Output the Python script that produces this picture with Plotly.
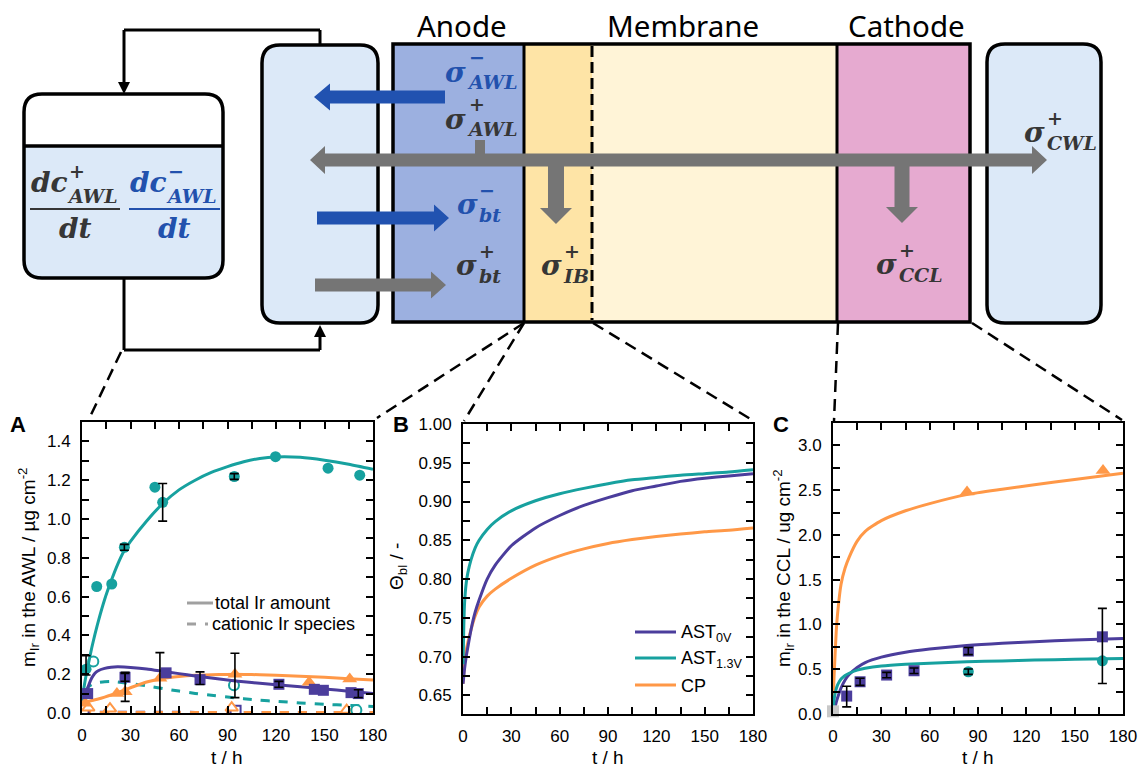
import plotly.graph_objects as go

W, H = 1140, 772

# ---------------- data ----------------
# Panel A : Ir in the anode water layer (AWL)
A_curve_t = [0, 1, 2, 3, 4, 6, 8, 10, 14, 18, 22, 26, 30, 40, 50, 60, 70, 80, 90, 100, 110, 120, 135, 150, 165, 180]
A_total_13V = [0.06, 0.12, 0.17, 0.215, 0.255, 0.335, 0.405, 0.47, 0.585, 0.68, 0.765, 0.835, 0.885, 0.99, 1.08, 1.15, 1.2, 1.24, 1.27, 1.295, 1.312, 1.32, 1.318, 1.303, 1.282, 1.256]
A_total_0V = [0.05, 0.07, 0.09, 0.115, 0.14, 0.18, 0.205, 0.218, 0.23, 0.236, 0.238, 0.237, 0.235, 0.227, 0.215, 0.203, 0.191, 0.18, 0.17, 0.161, 0.153, 0.146, 0.135, 0.124, 0.112, 0.1]
A_total_CP = [0.055, 0.056, 0.057, 0.058, 0.06, 0.064, 0.068, 0.072, 0.082, 0.093, 0.105, 0.118, 0.13, 0.16, 0.178, 0.188, 0.194, 0.197, 0.199, 0.199, 0.197, 0.194, 0.189, 0.184, 0.177, 0.17]
A_cat_13V = [0.02, 0.065, 0.1, 0.12, 0.135, 0.147, 0.153, 0.157, 0.161, 0.162, 0.16, 0.156, 0.152, 0.14, 0.126, 0.113, 0.101, 0.091, 0.082, 0.074, 0.066, 0.06, 0.052, 0.045, 0.039, 0.034]
A_cat_0V = [0.012, 0.01, 0.008, 0.007, 0.006, 0.005, 0.005, 0.004, 0.004, 0.004, 0.004, 0.004, 0.004, 0.004, 0.004, 0.004, 0.003, 0.003, 0.003, 0.003, 0.003, 0.003, 0.003, 0.003, 0.003, 0.003]
A_cat_CP = [0.004, 0.004, 0.004, 0.003, 0.003, 0.003, 0.003, 0.003, 0.003, 0.003, 0.002, 0.002, 0.002, 0.002, 0.002, 0.002, 0.002, 0.002, 0.002, 0.002, 0.002, 0.002, 0.002, 0.002, 0.002, 0.002]

A_13V_t = [2.5, 9.1, 18.4, 26.2, 45.1, 49.9, 94.2, 119.7, 152.2, 171.8]
A_13V_m = [0.226, 0.652, 0.665, 0.854, 1.164, 1.086, 1.219, 1.321, 1.262, 1.226]
A_0V_t = [3.5, 26.6, 52, 73, 121.8, 143.7, 149.3, 166.4, 170.9]
A_0V_m = [0.1, 0.184, 0.207, 0.172, 0.148, 0.122, 0.117, 0.105, 0.1]
A_CP_t = [2, 21.6, 26.7, 48.2, 94.6, 140.5, 165.6]
A_CP_m = [0.05, 0.101, 0.11, 0.179, 0.2, 0.158, 0.175]
A_13V_cat_t = [7, 94, 169.7]
A_13V_cat_m = [0.265, 0.143, 0.015]
A_0V_cat_t = [1, 95]
A_0V_cat_m = [0.015, 0.012]
A_CP_cat_t = [3.9, 17.3, 92.6, 163.7]
A_CP_cat_m = [0.027, 0.022, 0.027, 0.015]

A_err_t = [2.5, 26.2, 49.9, 94.2, 26.6, 73, 121.8, 170.9, 26.7, 48.2, 94.6]
A_err_m = [0.226, 0.854, 1.086, 1.219, 0.184, 0.172, 0.148, 0.1, 0.11, 0.179, 0.2]
A_err_plus = [0.07, 0.015, 0.097, 0.015, 0.02, 0.04, 0.015, 0.02, 0.1, 0.132, 0.108]
A_err_minus = [0.03, 0.015, 0.097, 0.015, 0.02, 0.025, 0.015, 0.02, 0.05, 0.185, 0.121]

# Panel B : blocked surface fraction
B_t = [0, 0.5, 1, 2, 3, 5, 7.5, 10, 15, 20, 30, 45, 60, 75, 90, 105, 120, 135, 150, 165, 180]
B_0V = [0.665, 0.675, 0.685, 0.7, 0.712, 0.735, 0.757, 0.773, 0.8, 0.818, 0.843, 0.866, 0.882, 0.895, 0.905, 0.914, 0.92, 0.926, 0.93, 0.933, 0.936]
B_13V = [0.69, 0.74, 0.77, 0.795, 0.808, 0.825, 0.84, 0.85, 0.864, 0.874, 0.888, 0.901, 0.91, 0.917, 0.923, 0.928, 0.931, 0.934, 0.936, 0.938, 0.941]
B_CP = [0.665, 0.68, 0.692, 0.708, 0.718, 0.735, 0.752, 0.764, 0.778, 0.787, 0.801, 0.818, 0.83, 0.839, 0.846, 0.851, 0.855, 0.858, 0.861, 0.863, 0.866]

# Panel C : Ir in the cathode catalyst layer (CCL)
C_t = [0, 0.5, 1, 2, 3, 5, 7.5, 10, 15, 20, 30, 45, 60, 83, 105, 125, 150, 180]
C_CP = [0, 0.35, 0.55, 0.92, 1.15, 1.45, 1.63, 1.75, 1.93, 2.04, 2.16, 2.27, 2.35, 2.45, 2.51, 2.56, 2.62, 2.69]
C_0V = [0, 0.03, 0.06, 0.13, 0.19, 0.29, 0.38, 0.44, 0.52, 0.575, 0.635, 0.69, 0.725, 0.765, 0.79, 0.807, 0.826, 0.844]
C_13V = [0, 0.13, 0.2, 0.28, 0.33, 0.39, 0.43, 0.455, 0.49, 0.51, 0.535, 0.555, 0.568, 0.583, 0.593, 0.602, 0.612, 0.621]

C_0V_t = [8.5, 16.8, 33.3, 50.3, 84, 167.2]
C_0V_m = [0.2, 0.36, 0.435, 0.483, 0.703, 0.862]
C_13V_t = [84, 167.2]
C_13V_m = [0.472, 0.594]
C_CP_t = [83.2, 167.6]
C_CP_m = [2.48, 2.72]
C_ref_t = [0]
C_ref_m = [0.03]

C_err_t = [8.5, 16.8, 33.3, 50.3, 84, 84, 167.2]
C_err_m = [0.2, 0.36, 0.435, 0.483, 0.703, 0.472, 0.76]
C_err_plus = [0.11, 0.04, 0.03, 0.03, 0.04, 0.03, 0.42]
C_err_minus = [0.12, 0.04, 0.03, 0.03, 0.04, 0.03, 0.42]

legend_names = ["AST<sub>0V</sub>", "AST<sub>1.3V</sub>", "CP"]

# ---------------- styles ----------------
TEAL = "#17a19f"
PURPLE = "#4b3d9c"
ORANGE = "#ff9847"
SANS = "Liberation Sans, Arial, sans-serif"
SERIF = "DejaVu Serif, serif"
DARK = "#363636"
BLUE_T = "#2251ad"
BLUE_A = "#2152b0"
GRAY_A = "#757575"

def X(px):
    return px / W

def Y(py):
    return 1 - py / H

def P(x, y):
    return f"{X(x):.5f},{Y(y):.5f}"

fig = go.Figure()

def line_tr(x, y, color, xa, ya, dash="solid", width=3):
    fig.add_trace(go.Scatter(x=x, y=y, mode="lines", line=dict(color=color, width=width, dash=dash, shape="spline", smoothing=0.6),
                             xaxis=xa, yaxis=ya, showlegend=False, hoverinfo="skip"))

def mark_tr(x, y, color, symbol, size, xa, ya, open_=False, clip=True):
    if open_:
        mk = dict(symbol=symbol, size=size, color="white", line=dict(color=color, width=2))
    else:
        mk = dict(symbol=symbol, size=size, color=color, line=dict(width=0))
    fig.add_trace(go.Scatter(x=x, y=y, mode="markers", marker=mk, xaxis=xa, yaxis=ya,
                             showlegend=False, hoverinfo="skip", cliponaxis=clip))

def err_tr(x, y, ep, em, xa, ya):
    fig.add_trace(go.Scatter(x=x, y=y, mode="markers", marker=dict(size=1, color="rgba(0,0,0,0)"),
                             error_y=dict(type="data", symmetric=False, array=ep, arrayminus=em,
                                          color="black", thickness=1.6, width=4.5),
                             xaxis=xa, yaxis=ya, showlegend=False, hoverinfo="skip", cliponaxis=False))

# Panel A
line_tr(A_curve_t, A_cat_0V, PURPLE, "x", "y", dash="dash")
line_tr(A_curve_t, A_cat_CP, ORANGE, "x", "y", dash="dash")
line_tr(A_curve_t, A_cat_13V, TEAL, "x", "y", dash="dash")
mark_tr(A_0V_cat_t, A_0V_cat_m, PURPLE, "square", 10, "x", "y", open_=True)
mark_tr(A_CP_cat_t, A_CP_cat_m, ORANGE, "triangle-up", 11, "x", "y", open_=True)
mark_tr(A_13V_cat_t, A_13V_cat_m, TEAL, "circle", 10, "x", "y", open_=True)
line_tr(A_curve_t, A_total_CP, ORANGE, "x", "y")
line_tr(A_curve_t, A_total_0V, PURPLE, "x", "y")
line_tr(A_curve_t, A_total_13V, TEAL, "x", "y")
mark_tr(A_CP_t, A_CP_m, ORANGE, "triangle-up", 13, "x", "y")
mark_tr(A_0V_t, A_0V_m, PURPLE, "square", 11, "x", "y")
mark_tr(A_13V_t, A_13V_m, TEAL, "circle", 11, "x", "y")
err_tr(A_err_t, A_err_m, A_err_plus, A_err_minus, "x", "y")

# Panel B
line_tr(B_t, B_CP, ORANGE, "x2", "y2")
line_tr(B_t, B_0V, PURPLE, "x2", "y2")
line_tr(B_t, B_13V, TEAL, "x2", "y2")

# Panel C
line_tr(C_t, C_CP, ORANGE, "x3", "y3")
line_tr(C_t, C_0V, PURPLE, "x3", "y3")
line_tr(C_t, C_13V, TEAL, "x3", "y3")
mark_tr(C_ref_t, C_ref_m, "#c8c8c8", "square", 12, "x3", "y3", clip=False)
mark_tr(C_CP_t, C_CP_m, ORANGE, "triangle-up", 13, "x3", "y3")
mark_tr(C_0V_t, C_0V_m, PURPLE, "square", 11, "x3", "y3")
mark_tr(C_13V_t, C_13V_m, TEAL, "circle", 11, "x3", "y3")
err_tr(C_err_t, C_err_m, C_err_plus, C_err_minus, "x3", "y3")

# ---------------- axes ----------------
TICKF = dict(family=SANS, size=17, color="black")

def xax(x0, x1, anchor):
    return dict(domain=[X(x0), X(x1)], anchor=anchor, range=[0, 180], tick0=0, dtick=30,
                ticks="inside", ticklen=7, tickwidth=1.5, tickcolor="black", automargin=False,
                showline=True, linewidth=2, linecolor="black", mirror="ticks",
                showgrid=False, zeroline=False, tickfont=TICKF, ticklabelstandoff=6,
                minor=dict(dtick=15, tick0=0, ticks="inside", ticklen=7, tickwidth=1.5, tickcolor="black"))

def yax(y_top, y_bot, anchor, rng, dtick, mdtick, tick0, fmt):
    return dict(domain=[Y(y_bot), Y(y_top)], anchor=anchor, range=rng, tick0=tick0, dtick=dtick,
                ticks="inside", ticklen=7, tickwidth=1.5, tickcolor="black", tickformat=fmt, automargin=False,
                showline=True, linewidth=2, linecolor="black", mirror="ticks",
                showgrid=False, zeroline=False, tickfont=TICKF, ticklabelstandoff=6,
                minor=dict(dtick=mdtick, tick0=tick0, ticks="inside", ticklen=7, tickwidth=1.5, tickcolor="black"))

fig.update_layout(
    width=W, height=H, margin=dict(l=0, r=0, t=0, b=0, pad=0), paper_bgcolor="white", plot_bgcolor="white",
    showlegend=False,
    xaxis=xax(82, 373, "y"), yaxis=yax(422, 713, "x", [0, 1.5], 0.2, 0.1, 0, ".1f"),
    xaxis2=xax(463, 753, "y2"), yaxis2=yax(424, 714, "x2", [0.626, 1.0], 0.05, 0.025, 0.65, ".2f"),
    xaxis3=xax(833, 1123, "y3"), yaxis3=yax(423, 714, "x3", [0, 3.25], 0.5, 0.25, 0, ".1f"),
)

shapes = []
ann = []

def text(x, y, s, size, color="black", family=SANS, xanchor="center", yanchor="middle", angle=0, align="center"):
    ann.append(dict(x=X(x), y=Y(y), xref="paper", yref="paper", text=s, showarrow=False,
                    font=dict(family=family, size=size, color=color), xanchor=xanchor, yanchor=yanchor,
                    textangle=angle, align=align, borderpad=0))

def seg(x0, y0, x1, y1, color="black", width=3, dash="solid"):
    shapes.append(dict(type="line", xref="paper", yref="paper", x0=X(x0), y0=Y(y0), x1=X(x1), y1=Y(y1),
                       line=dict(color=color, width=width, dash=dash)))

def poly(pts, fill, line_color=None, width=0):
    path = "M " + " L ".join(P(x, y) for x, y in pts) + " Z"
    shapes.append(dict(type="path", xref="paper", yref="paper", path=path, fillcolor=fill,
                       line=dict(color=line_color or fill, width=width)))

def rrect_path(x0, y0, x1, y1, rt, rb):
    return (f"M {P(x0 + rt, y0)} L {P(x1 - rt, y0)} Q {P(x1, y0)} {P(x1, y0 + rt)} "
            f"L {P(x1, y1 - rb)} Q {P(x1, y1)} {P(x1 - rb, y1)} L {P(x0 + rb, y1)} Q {P(x0, y1)} {P(x0, y1 - rb)} "
            f"L {P(x0, y0 + rt)} Q {P(x0, y0)} {P(x0 + rt, y0)} Z")

def rrect(x0, y0, x1, y1, r, fill, line_w=3.5, rt=None, rb=None):
    rt = r if rt is None else rt
    rb = r if rb is None else rb
    shapes.append(dict(type="path", xref="paper", yref="paper", path=rrect_path(x0, y0, x1, y1, rt, rb),
                       fillcolor=fill, line=dict(color="black", width=line_w) if line_w else dict(width=0)))

def rect(x0, y0, x1, y1, fill, line_w=0):
    shapes.append(dict(type="rect", xref="paper", yref="paper", x0=X(x0), x1=X(x1), y0=Y(y1), y1=Y(y0),
                       fillcolor=fill, line=dict(color="black", width=line_w) if line_w else dict(width=0)))

def harrow(x_tail, x_tip, y, color, sw=6.5, hw=14, hl=15, double=False):
    d = 1 if x_tip > x_tail else -1
    xb = x_tip - d * hl
    if double:
        xa = x_tail + d * hl
        pts = [(x_tail, y), (xa, y - hw), (xa, y - sw), (xb, y - sw), (xb, y - hw), (x_tip, y),
               (xb, y + hw), (xb, y + sw), (xa, y + sw), (xa, y + hw)]
    else:
        pts = [(x_tail, y - sw), (xb, y - sw), (xb, y - hw), (x_tip, y), (xb, y + hw), (xb, y + sw), (x_tail, y + sw)]
    poly(pts, color)

def varrow(x, y_tail, y_tip, color, sw=8, hw=16, hl=16):
    yb = y_tip - hl
    pts = [(x - sw, y_tail), (x - sw, yb), (x - hw, yb), (x, y_tip), (x + hw, yb), (x + sw, yb), (x + sw, y_tail)]
    poly(pts, color)

# ---------- schematic ----------
LB = "#dce9f8"
# loop lines
seg(320, 46, 320, 30)
seg(320, 30, 124, 30)
seg(124, 30, 124, 84)
poly([(118, 82), (130, 82), (124, 94)], "black")
seg(124, 278, 124, 350)
seg(124, 350, 320, 350)
seg(320, 350, 320, 336)
poly([(314, 337), (326, 337), (320, 325)], "black")

# reservoir
shapes.append(dict(type="path", xref="paper", yref="paper", path=rrect_path(24, 94, 223, 146, 18, 0),
                   fillcolor="white", line=dict(width=0)))
shapes.append(dict(type="path", xref="paper", yref="paper", path=rrect_path(24, 146, 223, 278, 0, 18),
                   fillcolor=LB, line=dict(width=0)))
rrect(24, 94, 223, 278, 18, "rgba(0,0,0,0)")
seg(24, 146, 223, 146, width=3.5)

# AWL box and CWL box
rrect(262, 45, 378, 323, 18, LB)
rrect(987, 44, 1101, 323, 18, LB)

# MEA layers
rect(393, 44, 524, 322, "#9cb0e0")
rect(524, 44, 592, 322, "#fee4a6")
rect(592, 44, 837, 322, "#fff4d7")
rect(837, 44, 970, 322, "#e6aad0")
rect(393, 44, 970, 322, "rgba(0,0,0,0)", line_w=3.5)
seg(524, 44, 524, 322, width=3)
seg(837, 44, 837, 322, width=3)
seg(592, 46, 592, 320, width=3, dash="11px,5px")

# arrows
harrow(445, 314, 97, BLUE_A, hw=13.5, hl=16)
harrow(310, 1047, 160, GRAY_A, double=True)
rect(475, 140, 485, 155, GRAY_A)
harrow(317, 449, 218, BLUE_A, hw=13.5, hl=15)
harrow(315, 446, 285, GRAY_A, hw=13.5, hl=15)
varrow(556, 165, 224, GRAY_A)
varrow(902, 165, 223, GRAY_A, sw=7.5)

# connector dashed lines
CD = "12px,7px"
seg(121, 352, 88, 421, width=2.5, dash=CD)
seg(524, 323, 377, 418, width=2.5, dash=CD)
seg(524, 323, 464, 421, width=2.5, dash=CD)
seg(593, 323, 752, 420, width=2.5, dash=CD)
seg(838, 323, 834, 421, width=2.5, dash=CD)
seg(972, 323, 1122, 420, width=2.5, dash=CD)

# layer titles
TF = "Noto Sans, Open Sans, sans-serif"
text(462, 25, "Anode", 29.5, family=TF)
text(683, 25, "Membrane", 29.5, family=TF)
text(906, 25, "Cathode", 29.5, family=TF)

def bi(s):
    return f"<b><i>{s}</i></b>"

def sigma(xc, yc, sup, sub, color, xs):
    text(xc, yc, bi("σ"), 28, color=color, family=SERIF)
    text(xs, yc - 2, bi(f"{sup}<br>{sub}"), 19, color=color, family=SERIF, xanchor="left", align="left")

sigma(455, 72, "−", "AWL", BLUE_T, 466)
sigma(455, 119, "+", "AWL", DARK, 466)
sigma(467, 204, "−", "bt", BLUE_T, 478)
sigma(466, 265, "+", "bt", DARK, 478)
sigma(551, 265, "+", "IB", DARK, 562)
sigma(886, 264, "+", "CCL", DARK, 898)
sigma(1034, 133, "+", "CWL", DARK, 1046)

# fractions
def frac(x0, x1, color, sup):
    text(x0, 183, bi("dc"), 28, color=color, family=SERIF, xanchor="left")
    text(x0 + 36, 184, bi(f"{sup}<br>AWL"), 19, color=color, family=SERIF, xanchor="left", align="left")
    seg(x0, 209, x1, 209, color=color, width=2)
    text((x0 + x1) / 2, 229, bi("dt"), 28, color=color, family=SERIF)

frac(30, 120, DARK, "+")
frac(129, 220, BLUE_T, "−")

# ---------- plot annotations ----------
text(18, 425, "<b>A</b>", 22)
text(401, 425, "<b>B</b>", 22)
text(781, 425, "<b>C</b>", 22)
text(28, 567, "m<sub>Ir</sub> in the AWL / µg cm<sup>-2</sup>", 19, angle=-90)
text(398, 567, "Θ<sub>bl</sub> / -", 19, angle=-90)
text(783, 568, "m<sub>Ir</sub> in the CCL / ug cm<sup>-2</sup>", 19, angle=-90)
for xc in (227, 608, 978):
    text(xc, 757, "t / h", 19)

# legend A
seg(187, 603, 213, 603, color="#a0a0a0", width=3)
seg(187, 624, 208, 624, color="#a0a0a0", width=3, dash="dash")
text(214, 603, "total Ir amount", 18, xanchor="left")
text(211, 624, "cationic Ir species", 18, xanchor="left")

# legend B
for yy, col, name in zip((632, 658, 685), (PURPLE, TEAL, ORANGE), legend_names):
    seg(635, yy, 676, yy, color=col, width=3)
    text(680, yy + 1, name, 18, xanchor="left")

fig.update_layout(shapes=shapes, annotations=ann)

fig.write_html("out.html", config={"displayModeBar": False},
               post_script="document.body.style.margin='0';document.body.style.overflow='hidden';")
